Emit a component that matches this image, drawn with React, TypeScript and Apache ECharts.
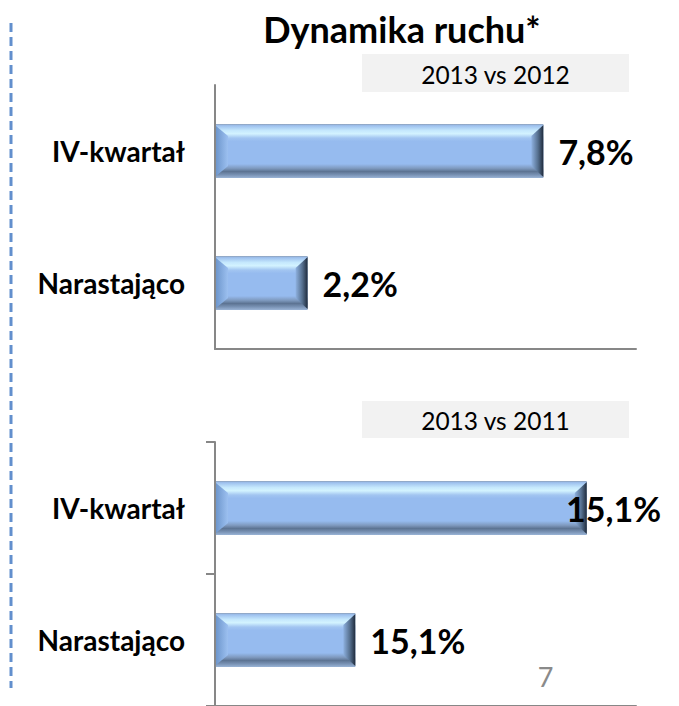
import React, { useEffect, useRef } from 'react';
import * as echarts from 'echarts';

const categories = ['IV-kwartał', 'Narastająco'];
const topValues = [7.8, 2.2];
const topLabels = ['7,8%', '2,2%'];
const bottomValues = [15.1, 5.7];
const bottomLabels = ['15,1%', '15,1%'];
const topMax = 10;
const bottomMax = 17.1;
const titleText = 'Dynamika ruchu*';
const topSubtitle = '2013 vs 2012';
const bottomSubtitle = '2013 vs 2011';
const pageNumber = '7';

const FONT = 'Lato, "Open Sans", sans-serif';
const VALUE_FONT_SIZE = 34;

function measure(text: string, font: string): number {
  const c = document.createElement('canvas').getContext('2d');
  if (!c) return text.length * 18;
  c.font = font;
  return c.measureText(text).width;
}

function makeRender(labels: string[], limit: number) {
  return (params: any, api: any) => {
    const v = api.value(0);
    const c = api.value(1);
    const s = api.coord([0, c]);
    const e = api.coord([v, c]);
    const h = 54;
    const b = 12;
    const x0 = s[0] + 1;
    const x1 = e[0];
    const yc = s[1];
    const y0 = yc - h / 2;
    const y1 = yc + h / 2;
    const body = new echarts.graphic.LinearGradient(0, 0, 0, 1, [
      { offset: 0, color: '#8c9fb8' },
      { offset: 0.03, color: '#9dc0ee' },
      { offset: 0.12, color: '#c5e8fd' },
      { offset: 0.18, color: '#d3f3ff' },
      { offset: 0.26, color: '#a2c5f1' },
      { offset: 0.32, color: '#96bbef' },
      { offset: 0.74, color: '#96bbef' },
      { offset: 0.82, color: '#7f9abf' },
      { offset: 0.88, color: '#5d7493' },
      { offset: 0.94, color: '#7891b3' },
      { offset: 1, color: '#9ab4d6' },
    ]);
    const leftG = new echarts.graphic.LinearGradient(0, 0, 1, 0, [
      { offset: 0, color: '#6d96cc' },
      { offset: 1, color: '#9cc0f0' },
    ]);
    const rightG = new echarts.graphic.LinearGradient(0, 0, 1, 0, [
      { offset: 0, color: '#8eb1e0' },
      { offset: 0.55, color: '#56708f' },
      { offset: 1, color: '#1f2b3c' },
    ]);
    const label = labels[params.dataIndex];
    const font = `bold ${VALUE_FONT_SIZE}px ${FONT}`;
    const tw = measure(label, font);
    let lx = x1 + 15;
    if (lx + tw > limit) lx = limit - tw;
    return {
      type: 'group',
      children: [
        { type: 'rect', shape: { x: x0, y: y0, width: x1 - x0, height: h }, style: { fill: body } },
        {
          type: 'polygon',
          shape: { points: [[x0, y0 + 2], [x0 + b, y0 + b], [x0 + b, y1 - b], [x0, y1 - 2]] },
          style: { fill: leftG },
        },
        {
          type: 'polygon',
          shape: { points: [[x1, y0 + 1], [x1 - b, y0 + b], [x1 - b, y1 - b], [x1, y1 - 1]] },
          style: { fill: rightG },
        },
        {
          type: 'text',
          x: lx,
          y: yc,
          style: {
            text: label,
            fill: '#000',
            font,
            fontSize: VALUE_FONT_SIZE,
            fontWeight: 'bold',
            fontFamily: FONT,
            align: 'left',
            verticalAlign: 'middle',
            textAlign: 'left',
            textVerticalAlign: 'middle',
          },
        },
      ],
    };
  };
}

export default function App() {
  const ref = useRef<HTMLDivElement>(null);
  useEffect(() => {
    if (!ref.current) return;
    const chart = echarts.init(ref.current, undefined, { renderer: 'svg' });
    const axisCommonY = (withTicks: boolean) => ({
      type: 'category',
      data: categories,
      inverse: true,
      axisLine: { show: true, lineStyle: { color: '#878787', width: 2 } },
      axisTick: { show: withTicks, length: 9, lineStyle: { color: '#878787', width: 2 } },
      axisLabel: {
        margin: 30,
        color: '#000',
        fontFamily: FONT,
        fontWeight: 'bold',
        fontSize: 28,
      },
      splitLine: { show: false },
    });
    const axisCommonX = (max: number) => ({
      type: 'value',
      min: 0,
      max,
      axisLine: { show: true, lineStyle: { color: '#878787', width: 2 } },
      axisTick: { show: false },
      axisLabel: { show: false },
      splitLine: { show: false },
    });
    chart.setOption({
      animation: false,
      backgroundColor: '#ffffff',
      grid: [
        { left: 215, right: 43, top: 85, height: 264 },
        { left: 215, right: 43, top: 442, height: 268 },
      ],
      xAxis: [
        { ...axisCommonX(topMax), gridIndex: 0 },
        { ...axisCommonX(bottomMax), gridIndex: 1 },
      ],
      yAxis: [
        { ...axisCommonY(false), gridIndex: 0 },
        { ...axisCommonY(true), gridIndex: 1 },
      ],
      series: [
        {
          type: 'custom',
          xAxisIndex: 0,
          yAxisIndex: 0,
          encode: { x: 0, y: 1 },
          data: topValues.map((v, i) => [v, i]),
          renderItem: makeRender(topLabels, 679),
          clip: false,
        },
        {
          type: 'custom',
          xAxisIndex: 1,
          yAxisIndex: 1,
          encode: { x: 0, y: 1 },
          data: bottomValues.map((v, i) => [v, i]),
          renderItem: makeRender(bottomLabels, 661),
          clip: false,
        },
      ],
      graphic: [
        {
          type: 'line',
          shape: { x1: 11, y1: 23, x2: 11, y2: 688 },
          style: { stroke: '#628fcd', lineWidth: 3, lineDash: [9, 5] },
        },
        {
          type: 'text',
          x: 402,
          y: 29,
          style: {
            text: titleText,
            fill: '#000',
            font: `bold 36px ${FONT}`,
            textAlign: 'center',
            textVerticalAlign: 'middle',
            align: 'center',
            verticalAlign: 'middle',
          },
        },
        { type: 'rect', shape: { x: 362, y: 54, width: 267, height: 38 }, style: { fill: '#f2f2f2' } },
        {
          type: 'text',
          x: 495.5,
          y: 74,
          style: {
            text: topSubtitle,
            fill: '#000',
            font: `24.5px ${FONT}`,
            textAlign: 'center',
            textVerticalAlign: 'middle',
            align: 'center',
            verticalAlign: 'middle',
          },
        },
        { type: 'rect', shape: { x: 362, y: 401, width: 267, height: 37 }, style: { fill: '#f2f2f2' } },
        {
          type: 'text',
          x: 495.5,
          y: 420,
          style: {
            text: bottomSubtitle,
            fill: '#000',
            font: `24.5px ${FONT}`,
            textAlign: 'center',
            textVerticalAlign: 'middle',
            align: 'center',
            verticalAlign: 'middle',
          },
        },
        {
          type: 'text',
          x: 545.5,
          y: 676,
          style: {
            text: pageNumber,
            fill: '#8a8a8a',
            font: `27px ${FONT}`,
            textAlign: 'center',
            textVerticalAlign: 'middle',
            align: 'center',
            verticalAlign: 'middle',
          },
        },
      ],
    });
    return () => chart.dispose();
  }, []);
  return (
    <div
      ref={ref}
      style={{ position: 'fixed', left: 0, top: 0, width: 679, height: 706, background: '#fff' }}
    />
  );
}
